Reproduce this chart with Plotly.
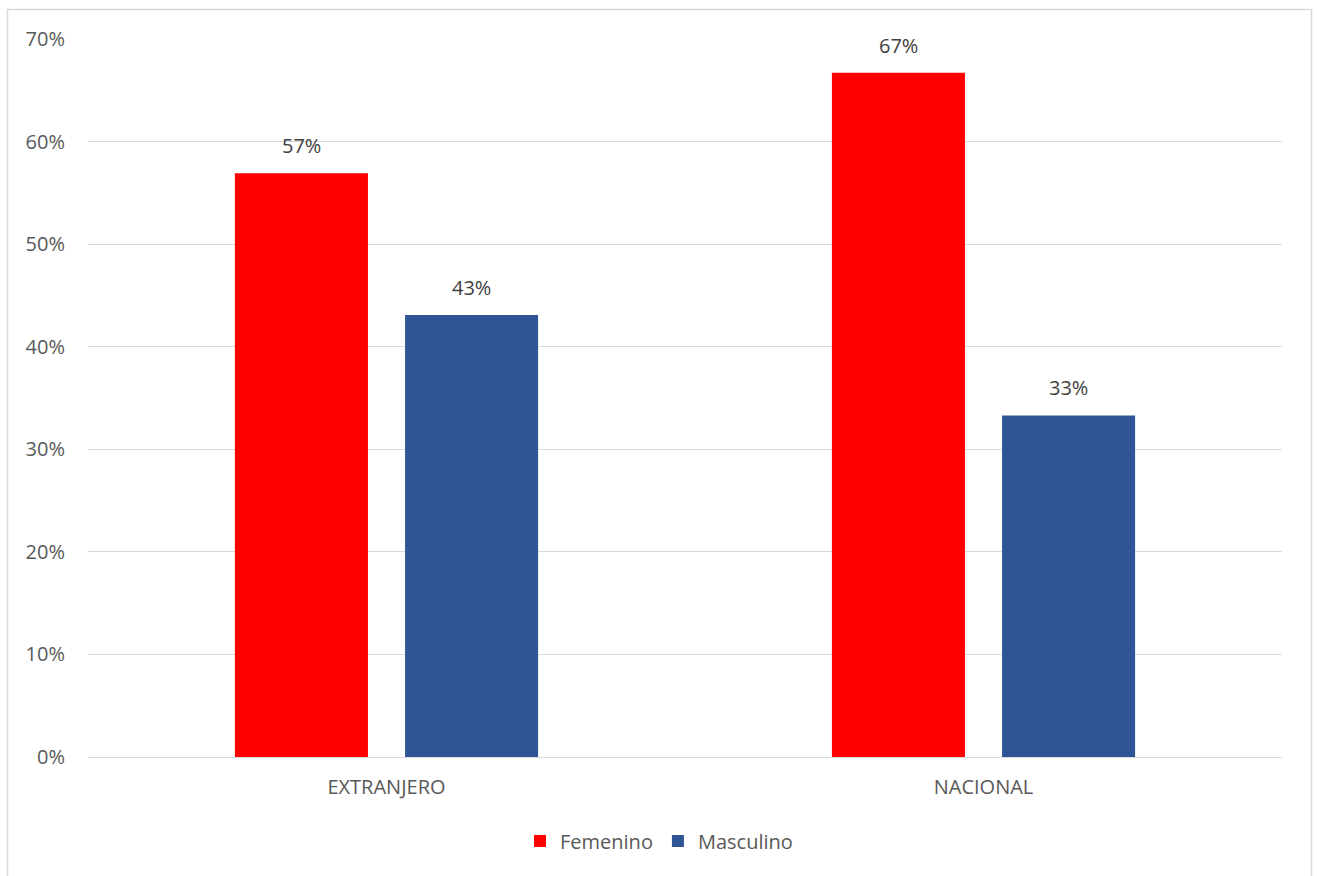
import plotly.graph_objects as go

categories = ["EXTRANJERO", "NACIONAL"]
femenino = [0.569, 0.667]
masculino = [0.431, 0.333]
series_names = ["Femenino", "Masculino"]
series_colors = ["#FF0000", "#2F5597"]
y_ticks = [0, 0.1, 0.2, 0.3, 0.4, 0.5, 0.6, 0.7]

W, H = 1317, 876
ML, MR, MT, MB = 88, 35, 39, 119
BARGAP = 0.43
GROUPGAP = 0.218
FONT = "Open Sans"
TICK_COLOR = "#595959"
LABEL_COLOR = "#404040"
FS = 20

fig = go.Figure()
for name, vals, col in zip(series_names, [femenino, masculino], series_colors):
    fig.add_trace(go.Bar(name=name, x=categories, y=vals, marker=dict(color=col, line=dict(width=0))))

# value labels above each bar, centred over the bar within its group
slot = (1 - BARGAP) / 2
annotations = []
for j, vals in enumerate([femenino, masculino]):
    for i, v in enumerate(vals):
        annotations.append(dict(
            x=i + (j - 0.5) * slot, y=v, xref="x", yref="y",
            text=f"{v:.0%}", showarrow=False, yanchor="bottom", yshift=12,
            font=dict(family=FONT, size=FS, color=LABEL_COLOR)))

plot_w = W - ML - MR
plot_h = H - MT - MB
px = lambda p: (p - ML) / plot_w
py = lambda p: (H - MB - p) / plot_h

fig.update_layout(
    width=W, height=H,
    margin=dict(l=ML, r=MR, t=MT, b=MB),
    barmode="group", bargap=BARGAP, bargroupgap=GROUPGAP,
    plot_bgcolor="white", paper_bgcolor="white",
    font=dict(family=FONT, size=FS, color=TICK_COLOR),
    showlegend=True,
    legend=dict(orientation="h", x=px(663) - 4 / plot_w, xanchor="center", yref="container",
                y=1 - 841 / H, yanchor="middle",
                font=dict(family=FONT, size=FS, color=TICK_COLOR),
                itemwidth=30, traceorder="normal"),
    annotations=annotations,
    shapes=[dict(type="rect", xref="paper", yref="paper",
                 x0=px(7.5), x1=px(1311.5), y0=py(900), y1=py(9.5),
                 line=dict(color="#D9D9D9", width=1.5), fillcolor="rgba(0,0,0,0)", layer="below")],
    xaxis=dict(type="category", showgrid=False, showline=False, ticks="",
               tickfont=dict(family=FONT, size=FS, color=TICK_COLOR), ticklabelstandoff=16),
    yaxis=dict(range=[0, 0.7], tickvals=y_ticks, tickformat=".0%", showgrid=True,
               gridcolor="#D9D9D9", gridwidth=1.3, zeroline=True, zerolinecolor="#D9D9D9",
               zerolinewidth=1.3, showline=False, ticks="",
               tickfont=dict(family=FONT, size=FS, color=TICK_COLOR), ticklabelstandoff=22),
)

fig.write_html("out.html")
